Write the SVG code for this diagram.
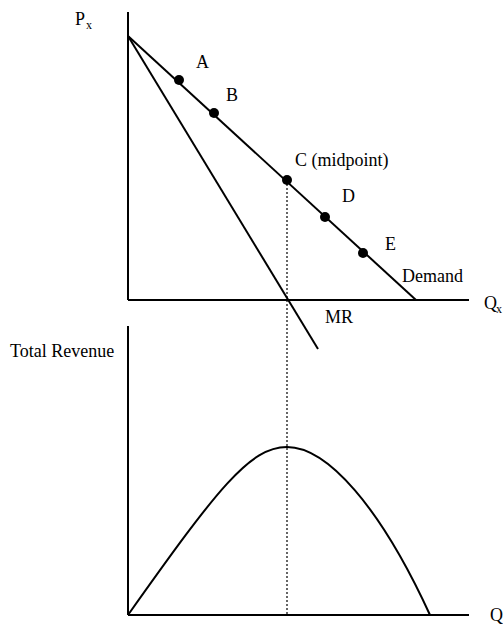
<svg xmlns="http://www.w3.org/2000/svg" width="503" height="624" viewBox="0 0 503 624">
<style>
.ax{stroke:#000;stroke-width:2;fill:none}
.ln{stroke:#000;stroke-width:2;fill:none}
.dot{fill:#000}
.dt{stroke:#000;stroke-width:1.2;stroke-dasharray:2,2;fill:none}
text{font-family:"Liberation Serif","Times New Roman",serif;font-size:18px;fill:#000}
.sub{font-size:12px}
</style>
<rect width="503" height="624" fill="#fff"/>
<g id="connectors">
<line class="dt" x1="287" y1="180" x2="287" y2="615"/>
</g>
<g id="top-axes">
<line class="ax" x1="128" y1="12" x2="128" y2="300"/>
<line class="ax" x1="128" y1="300" x2="469" y2="300"/>
<text x="75" y="25">P</text><text class="sub" x="86" y="29">x</text>
<text x="484" y="309">Q</text><text class="sub" x="496" y="313">x</text>
</g>
<g id="demand">
<line class="ln" x1="128" y1="36" x2="416" y2="300"/>
<text x="402" y="282">Demand</text>
</g>
<g id="mr">
<line class="ln" x1="128" y1="36" x2="318" y2="349"/>
<text x="325" y="323">MR</text>
</g>
<g id="pointA"><circle class="dot" cx="179" cy="80" r="5"/><text x="196" y="68">A</text></g>
<g id="pointB"><circle class="dot" cx="214" cy="113" r="5"/><text x="226" y="101">B</text></g>
<g id="pointC"><circle class="dot" cx="287" cy="180" r="5"/><text x="295" y="166">C (midpoint)</text></g>
<g id="pointD"><circle class="dot" cx="325" cy="217" r="5"/><text x="342" y="202">D</text></g>
<g id="pointE"><circle class="dot" cx="363" cy="253" r="5"/><text x="385" y="250">E</text></g>
<g id="bottom-axes">
<line class="ax" x1="128" y1="326" x2="128" y2="615"/>
<line class="ax" x1="128" y1="615" x2="469" y2="615"/>
<text x="10" y="357">Total Revenue</text>
<text x="490" y="621">Q</text>
</g>
<g id="tr-curve">
<path class="ln" d="M128,615 C218,488 250,447 287,447 C327,447 380,506 430,615"/>
</g>
</svg>
